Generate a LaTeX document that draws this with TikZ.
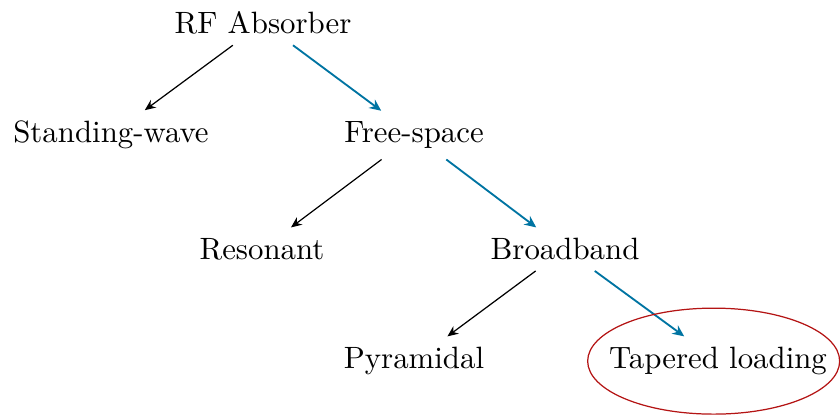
\documentclass[tikz,border=0pt]{standalone}
\usetikzlibrary{arrows.meta}
\definecolor{azul}{RGB}{0,116,162}
\definecolor{vermelho}{RGB}{180,20,20}
\begin{document}
\begin{tikzpicture}[
    ramo/.style={-{Stealth[length=3.5pt,width=3pt]}},
    caminho/.style={-{Stealth[length=3.8pt,width=3.4pt]}, azul, semithick},
  ]
  \useasboundingbox (0,0) rectangle (9.574,-4.730); % margens
  \node (rf) at (2.998,-0.262) {RF Absorber}; % raiz
  \node (sw) at (1.265,-1.540) {Standing-wave};
  \node (fs) at (4.719,-1.540) {Free-space};
  \node (res) at (2.986,-2.840) {Resonant};
  \node (bb) at (6.440,-2.840) {Broadband};
  \node (pyr) at (4.719,-4.116) {Pyramidal};
  \node (tap) at (8.184,-4.116) {Tapered loading};
  \draw[ramo] (rf) -- (sw);
  \draw[caminho] (rf) -- (fs); % caminho escolhido
  \draw[ramo] (fs) -- (res);
  \draw[caminho] (fs) -- (bb);
  \draw[ramo] (bb) -- (pyr);
  \draw[caminho] (bb) -- (tap);
  \draw[vermelho] ([xshift=-0.05cm]tap.center) ellipse (1.436cm and 0.604cm); % destaque
\end{tikzpicture}
\end{document}
